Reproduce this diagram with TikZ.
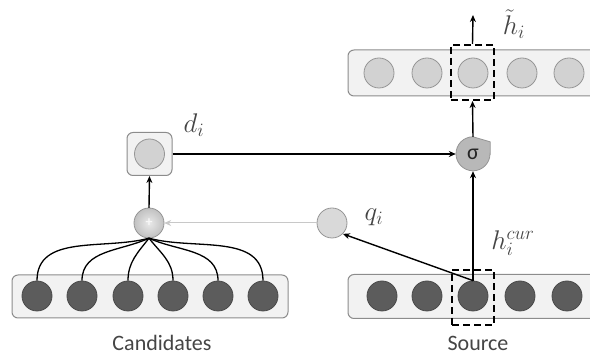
\RequirePackage{fix-cm}
\documentclass[tikz,border=0pt]{standalone}
\usepackage{fontspec}
\setmainfont{Carlito}
\usetikzlibrary{arrows.meta}

\definecolor{boxfill}{HTML}{F2F2F2}
\definecolor{boxline}{HTML}{8C8C8C}
\definecolor{darkfill}{HTML}{5C5C5C}
\definecolor{darkline}{HTML}{4A4A4A}
\definecolor{lightfill}{HTML}{D2D2D2}
\definecolor{lightline}{HTML}{959595}
\definecolor{sigfill}{HTML}{B8B8B8}
\definecolor{txt}{HTML}{454545}
\definecolor{faint}{HTML}{C8C8C8}

\tikzset{
  layerbox/.style={draw=boxline, fill=boxfill, rounded corners=6pt, line width=1pt, inner sep=0pt},
  darkunit/.style={circle, draw=darkline, fill=darkfill, minimum size=30pt, inner sep=0pt, line width=0.8pt},
  lightunit/.style={circle, draw=lightline, fill=lightfill, minimum size=30pt, inner sep=0pt, line width=0.8pt},
  conn/.style={line width=1.4pt, -{Stealth[length=7pt,width=6pt]}},
  fan/.style={line width=1.3pt},
  selbox/.style={draw=black, line width=2pt, dash pattern=on 7pt off 4pt, inner sep=0pt},
  caption/.style={text=txt, font=\fontsize{22}{26}\selectfont},
  mlabel/.style={text=txt, font=\fontsize{27}{31}\selectfont, inner sep=0pt}
}

\begin{document}
\begin{tikzpicture}[x=1pt,y=1pt]
\useasboundingbox (0,0) rectangle (590,356);

% layer boxes
\node[layerbox, minimum width=276pt, minimum height=43pt] (candbox) at (150,59.5) {};
\node[layerbox, minimum width=252pt, minimum height=44pt] (srcbox) at (474,59.5) {};
\node[layerbox, minimum width=252pt, minimum height=46pt] (outbox) at (474,283) {};

% candidate units
\foreach \i/\x in {1/37,2/82,3/128,4/173,5/218,6/263}
  \node[darkunit] (c\i) at (\x,60) {};

% source units
\foreach \i/\x in {1/382,2/427,3/473,4/520,5/567}
  \node[darkunit] (s\i) at (\x,60) {};

% output units
\foreach \i/\x in {1/379,2/427,3/473,4/522,5/569}
  \node[lightunit] (o\i) at (\x,283) {};

% current position markers
\node[selbox, minimum width=42pt, minimum height=55pt] (srcsel) at (473,58.5) {};
\node[selbox, minimum width=43pt, minimum height=55pt] (outsel) at (472.5,283.5) {};

% captions
\node[caption] (candlab) at (162,13) {Candidates};
\node[caption] (srclab) at (478,13) {Source};

% pooled candidate vector d_i
\node[layerbox, minimum width=45pt, minimum height=43pt] (dbox) at (149.5,202) {};
\node[lightunit] (d) at (149.5,202) {};
\node[mlabel] (dlab) at (194,231) {$d_i$};

% sum node
\node[circle, minimum size=30pt, inner sep=0pt] (plus) at (149,133) {};
\shade[inner color=white!60!faint, outer color=faint!90!gray] (plus.center) circle[radius=15pt];
\draw[lightline, line width=0.8pt] (plus.center) circle[radius=15pt];
\node[text=white!85!faint, font=\fontsize{14}{14}\selectfont\bfseries] (plussign) at (plus.center) {+};

% query node
\node[lightunit, fill=lightfill!85!white] (q) at (332,133) {};
\node[mlabel] (qlab) at (374,139) {$q_i$};

% gate node
\node[circle, minimum size=34pt, inner sep=0pt] (sig) at (473,202) {};
\filldraw[draw=lightline, fill=sigfill, line width=0.8pt]
  (sig.east) -- (sig.north east -| sig.east) -- (sig.north) arc[start angle=90, end angle=360, radius=17pt] -- cycle;
\node[text=black!85, font=\fontsize{22}{22}\selectfont, inner sep=0pt] (sigsym) at (sig.center) {σ};

% labels on the source/output side
\node[mlabel] (hcur) at (513,113) {$h_i^{cur}$};
\node[mlabel] (hout) at (514,332) {$\tilde{h}_i$};

% fan-in from candidates to sum
\draw[fan] (plus.south) to[out=195, in=90] (c1.north);
\draw[fan] (plus.south) to[out=205, in=90] (c2.north);
\draw[fan] (plus.south) to[out=232, in=90] (c3.north);
\draw[fan] (plus.south) to[out=-52, in=90] (c4.north);
\draw[fan] (plus.south) to[out=-25, in=90] (c5.north);
\draw[fan] (plus.south) to[out=-15, in=90] (c6.north);

% connectors
\draw[conn] (plus.north) -- (dbox.south);
\draw[conn] (dbox.east) -- (sig.west);
\draw[conn, draw=faint, line width=1pt] (q.west) -- (plus.east);
\draw[conn] (s3.north) -- (q.south east);
\draw[conn] (s3.north) -- (sig.south);
\draw[conn] (sig.north) -- (outsel.south);
\coordinate (outtop) at (473,341);
\draw[conn] (outsel.north) -- (outtop);
\end{tikzpicture}
\end{document}
